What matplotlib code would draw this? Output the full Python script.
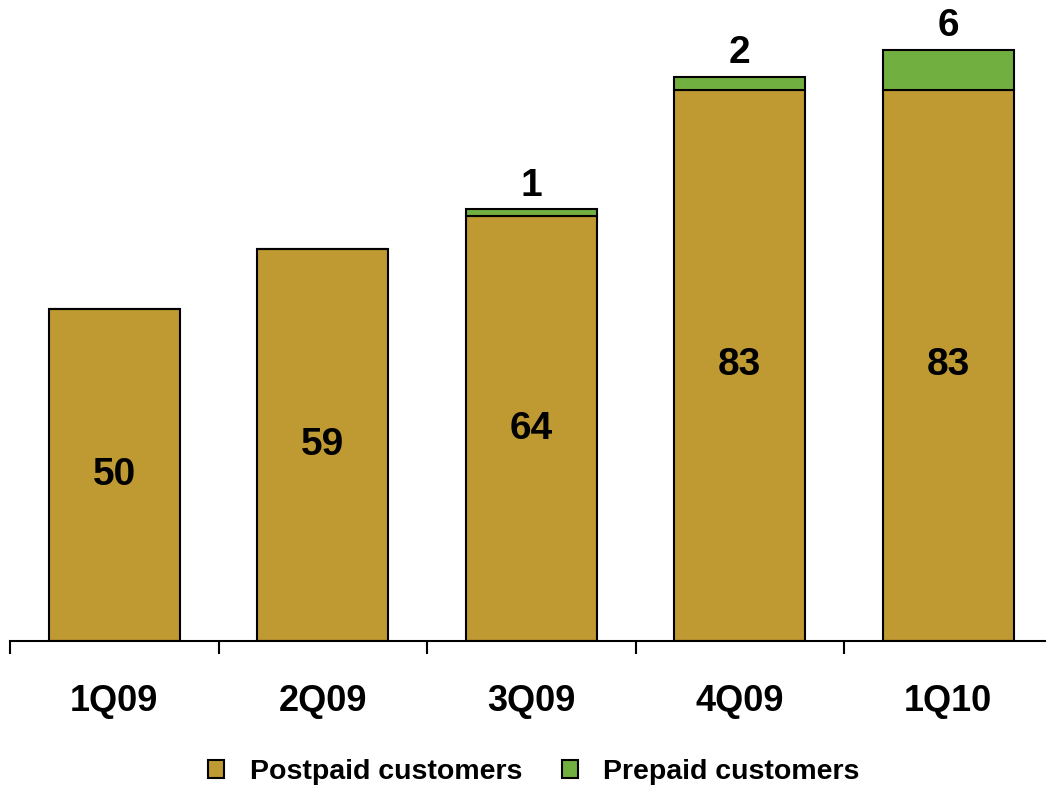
import matplotlib.pyplot as plt
import numpy as np
from matplotlib.patches import Patch

plt.rcParams['font.family'] = ['Liberation Sans', 'DejaVu Sans']
plt.rcParams['font.weight'] = 'bold'

quarters = ['1Q09', '2Q09', '3Q09', '4Q09', '1Q10']
postpaid = [50, 59, 64, 83, 83]
prepaid = [0, 0, 1, 2, 6]

gold = '#BF9A33'
green = '#70AF40'

fig = plt.figure(figsize=(10.46, 7.92), dpi=100)
ax = fig.add_axes([10 / 1046, 151 / 792, 1042.5 / 1046, 641 / 792])

x = np.arange(len(quarters))
ax.bar(x, postpaid, width=0.63, color=gold, edgecolor='black', linewidth=1.5)
ax.bar(x, prepaid, width=0.63, bottom=postpaid, color=green, edgecolor='black', linewidth=1.5)

for i in range(len(quarters)):
    ax.text(x[i], postpaid[i] / 2, str(postpaid[i]), ha='center', va='center',
            fontsize=28, fontweight='bold')
    if prepaid[i] > 0:
        ax.annotate(str(prepaid[i]), (x[i], postpaid[i] + prepaid[i]),
                    xytext=(0, 4), textcoords='offset points',
                    ha='center', va='bottom', fontsize=28, fontweight='bold')

ax.set_xlim(-0.5, 4.5)
ax.set_ylim(0, 641 / 6.64)

for s in ['top', 'right', 'left']:
    ax.spines[s].set_visible(False)
ax.spines['bottom'].set_linewidth(1.5)
ax.set_yticks([])

ax.set_xticks(np.arange(-0.5, 5, 1))
ax.set_xticklabels([])
ax.tick_params(axis='x', which='major', direction='out', length=9, width=1.5)
ax.set_xticks(x, minor=True)
ax.set_xticklabels(quarters, minor=True, fontsize=26, fontweight='bold')
ax.tick_params(axis='x', which='minor', length=0, pad=31)

handles = [Patch(facecolor=gold, edgecolor='black', linewidth=1.5, label='Postpaid customers'),
           Patch(facecolor=green, edgecolor='black', linewidth=1.5, label='Prepaid customers')]
fig.legend(handles=handles, loc='center', bbox_to_anchor=(534 / 1046, 1 - 772 / 792),
           ncol=2, frameon=False, prop={'size': 20.5, 'weight': 'bold'},
           handlelength=0.55, handleheight=0.55, handletextpad=0.9, columnspacing=1.4)

fig.savefig('out.png', dpi=100)
